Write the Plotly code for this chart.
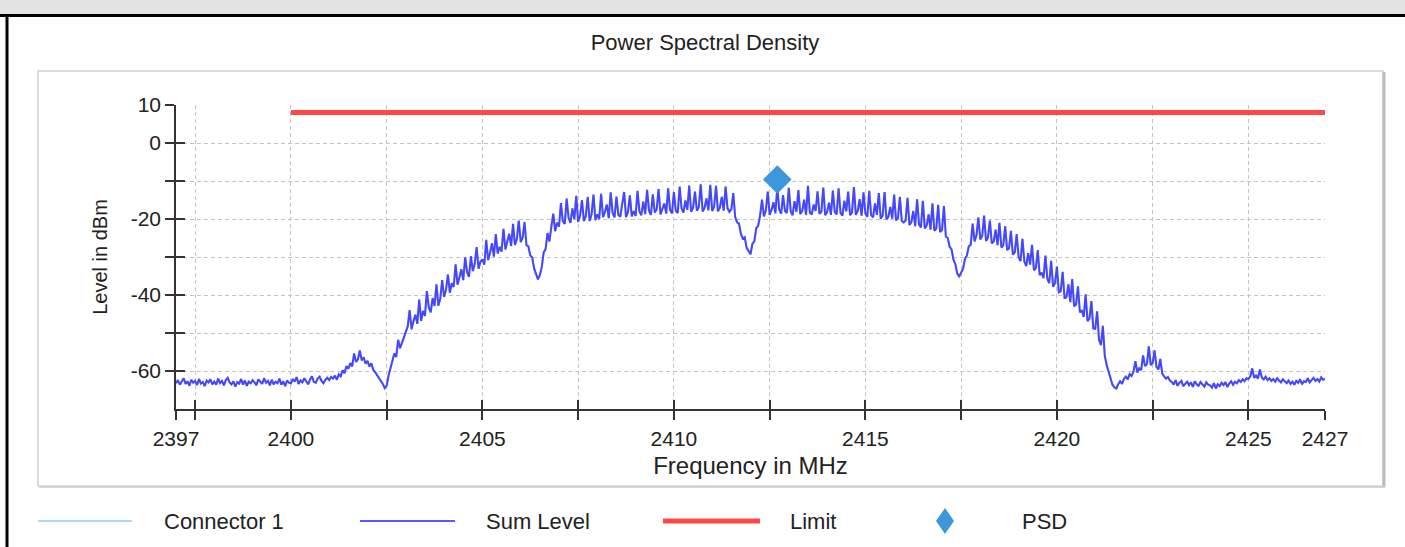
import plotly.graph_objects as go

# Sum level trace, every 0.05 MHz from 2397.00 to 2427.00
sum_level = [
    # 2397
    -63.2, -62.4, -63.6, -62.8, -61.9, -63.4, -62.7, -63.9, -62.3, -63.1,
    -62.6, -63.7, -62.1, -63.3, -62.9, -64.0, -62.5, -63.0, -62.2, -63.5,
    # 2398
    -62.8, -63.6, -62.0, -63.2, -62.6, -63.8, -62.4, -61.8, -63.0, -63.5,
    -62.7, -64.1, -62.9, -63.3, -62.1, -63.6, -62.5, -63.9, -62.8, -63.2,
    # 2399
    -62.4, -63.0, -63.7, -62.2, -62.9, -63.4, -61.9, -63.1, -62.6, -63.8,
    -62.3, -63.5, -62.8, -63.2, -62.0, -63.6, -62.7, -64.0, -62.5, -63.1,
    # 2400
    -63.3, -62.1, -62.8, -61.6, -63.4, -62.5, -63.0, -61.9, -62.7, -63.5,
    -62.2, -61.4, -62.9, -63.1, -62.0, -61.5, -62.6, -63.2, -62.3, -61.8,
    # 2401
    -62.4, -61.6, -62.0, -61.2, -62.3, -60.9, -61.4, -59.8, -60.6, -58.7,
    -59.4, -57.9, -58.8, -55.4, -57.6, -56.9, -54.6, -57.2, -56.4, -58.1,
    # 2402
    -57.3, -58.8, -58.0, -59.7, -60.3, -61.0, -61.8, -62.6, -63.4, -64.5,
    -63.9, -61.2, -59.0, -57.2, -55.4, -56.3, -51.8, -54.0, -52.5, -50.9,
    # 2403
    -49.6, -48.3, -44.0, -49.0, -46.9, -45.2, -47.6, -41.2, -46.8, -44.2,
    -45.5, -39.0, -43.2, -44.6, -40.8, -42.9, -37.2, -42.8, -41.0, -36.1,
    # 2404
    -40.5, -38.6, -34.6, -39.4, -36.9, -37.9, -31.9, -37.3, -35.4, -33.2,
    -36.1, -30.1, -34.0, -35.2, -29.8, -33.7, -31.8, -27.4, -33.1, -31.2,
    # 2405
    -30.6, -32.0, -25.5, -30.8, -28.9, -26.4, -29.9, -24.0, -29.1, -27.3,
    -28.6, -22.6, -28.0, -26.2, -23.9, -27.1, -21.3, -26.8, -25.2, -20.4,
    # 2406
    -26.1, -24.9, -20.8, -26.9, -27.2, -29.6, -30.1, -33.0, -34.2, -35.9,
    -34.8, -32.6, -28.8, -27.9, -23.7, -25.9, -22.1, -18.6, -23.2, -21.0,
    # 2407
    -22.0, -15.8, -20.6, -21.3, -14.6, -19.7, -21.0, -17.2, -20.1, -13.9,
    -20.8, -19.1, -15.0, -20.6, -19.2, -14.2, -20.5, -18.8, -13.6, -20.3,
    # 2408
    -18.8, -20.0, -13.4, -19.5, -18.1, -16.2, -19.8, -13.0, -18.4, -19.6,
    -14.1, -18.9, -19.4, -16.6, -12.9, -19.5, -18.2, -13.8, -19.3, -17.9,
    # 2409
    -19.2, -12.6, -18.0, -19.0, -15.4, -18.7, -12.3, -17.8, -18.9, -13.5,
    -18.3, -17.5, -12.1, -18.8, -17.4, -15.9, -18.6, -11.9, -17.6, -18.5,
    # 2410
    -12.9, -17.9, -18.4, -11.5, -17.2, -18.3, -15.1, -17.6, -11.2, -18.1,
    -17.0, -12.8, -17.8, -16.9, -10.9, -18.0, -17.1, -14.6, -17.7, -11.0,
    # 2411
    -17.9, -16.8, -11.3, -18.0, -17.0, -14.2, -17.8, -11.5, -17.2, -18.1,
    -17.4, -13.2, -19.5, -20.9, -21.2, -24.0, -25.2, -24.8, -27.6, -28.6,
    # 2412
    -29.3, -26.5, -25.9, -22.4, -21.8, -19.1, -14.9, -19.3, -17.8, -12.8,
    -18.9, -17.6, -15.6, -18.5, -11.6, -17.5, -18.6, -13.7, -17.9, -18.4,
    # 2413
    -11.8, -18.0, -19.0, -15.3, -18.1, -12.4, -18.7, -17.9, -14.9, -18.9,
    -11.3, -18.3, -18.8, -16.2, -17.9, -12.7, -18.6, -18.1, -11.7, -19.0,
    # 2414
    -18.2, -15.7, -18.9, -12.5, -18.1, -18.8, -11.9, -18.4, -19.1, -15.2,
    -18.0, -12.8, -19.0, -18.3, -11.6, -18.9, -17.9, -14.8, -19.1, -13.0,
    # 2415
    -18.6, -19.4, -12.6, -19.0, -19.6, -15.9, -18.9, -13.2, -19.9, -19.1,
    -12.9, -20.1, -19.4, -16.8, -19.9, -13.6, -20.4, -19.7, -14.2, -20.5,
    # 2416
    -20.9, -20.4, -14.4, -21.6, -20.8, -17.9, -21.9, -14.8, -21.4, -22.2,
    -15.2, -22.5, -21.7, -18.8, -22.8, -15.9, -23.1, -22.5, -16.3, -23.4,
    # 2417
    -22.9, -16.6, -24.6, -25.0, -27.3, -28.0, -30.8, -31.9, -34.4, -35.1,
    -34.2, -33.1, -30.5, -29.6, -27.2, -26.8, -21.2, -25.9, -24.3, -19.6,
    # 2418
    -25.4, -24.4, -19.1, -25.8, -24.9, -20.4, -26.4, -25.9, -22.8, -26.9,
    -21.0, -27.5, -26.9, -21.9, -28.2, -27.7, -23.1, -29.4, -28.8, -24.0,
    # 2419
    -30.0, -31.1, -25.2, -31.2, -32.4, -29.0, -32.0, -26.8, -33.5, -33.0,
    -28.2, -34.8, -34.1, -35.6, -29.6, -35.7, -36.9, -31.0, -37.8, -36.9,
    # 2420
    -32.5, -39.3, -39.0, -33.9, -40.9, -40.5, -37.2, -41.9, -35.8, -43.0,
    -42.5, -37.7, -44.6, -44.0, -45.8, -39.8, -46.9, -46.2, -41.6, -48.8,
    # 2421
    -48.9, -44.3, -51.8, -53.2, -48.1, -56.0, -58.4, -60.2, -62.1, -63.6,
    -64.3, -64.6, -63.5, -62.7, -63.4, -62.1, -61.5, -62.2, -60.8, -61.3,
    # 2422
    -60.2, -57.4, -60.4, -59.3, -59.8, -55.9, -58.7, -58.2, -53.5, -58.4,
    -57.9, -54.6, -58.9, -59.6, -56.8, -60.7, -61.4, -62.0, -61.6, -62.5,
    # 2423
    -62.9, -63.6, -62.4, -63.9, -63.1, -62.6, -64.0, -63.3, -62.8, -63.7,
    -63.0, -64.2, -62.7, -63.5, -63.9, -62.9, -63.4, -64.1, -63.0, -63.6,
    # 2424
    -63.8, -64.4, -63.2, -64.6, -63.5, -64.0, -63.1, -63.7, -62.9, -64.2,
    -63.3, -62.7, -63.6, -62.8, -63.2, -62.4, -62.9, -62.2, -62.7, -61.9,
    # 2425
    -62.1, -61.4, -59.3, -61.8, -61.2, -62.0, -59.6, -61.7, -62.2, -61.5,
    -62.4, -61.9, -62.6, -62.1, -62.8, -61.9, -62.5, -63.0, -62.2, -62.7,
    # 2426
    -63.2, -62.5, -63.4, -62.8, -63.6, -62.6, -63.1, -62.2, -63.5, -62.7,
    -62.9, -61.9, -63.0, -62.4, -61.8, -62.6, -62.1, -62.8, -61.7, -62.3,
    # 2427
    -62.0,
]
freq = [round(2397 + i * 0.05, 2) for i in range(len(sum_level))]

limit_freq = [2400, 2427]
limit_level = [8, 8]

psd_freq = [2412.7]
psd_level = [-9.6]

x_tickvals = [2397, 2397.5, 2400, 2402.5, 2405, 2407.5, 2410, 2412.5,
              2415, 2417.5, 2420, 2422.5, 2425, 2427]
x_ticktext = ['2397', '', '2400', '', '2405', '', '2410', '',
              '2415', '', '2420', '', '2425', '2427']
y_tickvals = [10, 0, -10, -20, -30, -40, -50, -60]
y_ticktext = ['10', '0', '', '-20', '', '-40', '', '-60']

legend_names = ['Connector 1', 'Sum Level', 'Limit', 'PSD']
legend_colors = ['#b0d6f5', '#5a5aff', '#ff4848', '#3b98dd']

FONT = 'Liberation Sans, Arial, sans-serif'
TXT = '#222222'

# plot area in pixels
L, R, T, B = 176, 1325, 105, 409


def px(xp):
    return (xp - L) / (R - L)


def py(yp):
    return (B - yp) / (B - T)


fig = go.Figure()
fig.add_trace(go.Scatter(x=freq, y=sum_level, mode='lines', name='Connector 1',
                         line=dict(color=legend_colors[0], width=2)))
fig.add_trace(go.Scatter(x=freq, y=sum_level, mode='lines', name='Sum Level',
                         line=dict(color='#4646ff', width=2)))
fig.add_trace(go.Scatter(x=limit_freq, y=limit_level, mode='lines', name='Limit',
                         line=dict(color=legend_colors[2], width=5)))
fig.add_trace(go.Scatter(x=psd_freq, y=psd_level, mode='markers', name='PSD',
                         marker=dict(symbol='diamond', size=22, color=legend_colors[3],
                                     line=dict(width=0))))
# empty trace so the overlay axes (inner half of the crossing ticks) get drawn
fig.add_trace(go.Scatter(x=[], y=[], xaxis='x2', yaxis='y2', hoverinfo='skip'))

axis_common = dict(showline=True, linecolor='#333333', linewidth=1.5,
                   ticks='outside', ticklen=9, tickwidth=1.5, tickcolor='#333333',
                   showgrid=True, gridcolor='#c4c4c4', griddash='4px,3px', gridwidth=1,
                   zeroline=False, tickfont=dict(family=FONT, size=21, color=TXT))
inner_ticks = dict(ticks='inside', ticklen=9, tickwidth=1.5, tickcolor='#333333',
                   showticklabels=False, showgrid=False, showline=False, zeroline=False)

fig.update_layout(
    width=1405, height=547,
    margin=dict(l=L, r=1405 - R, t=T, b=547 - B),
    paper_bgcolor='white', plot_bgcolor='white',
    showlegend=False,
    title=dict(text='Power Spectral Density', xref='container', yref='container',
               x=705 / 1405, y=1 - 42 / 547, xanchor='center', yanchor='middle',
               font=dict(family=FONT, size=22, color=TXT)),
    xaxis=dict(range=[2397, 2427], tickvals=x_tickvals, ticktext=x_ticktext,
               title=dict(text='Frequency in MHz', standoff=8,
                          font=dict(family=FONT, size=24, color=TXT)),
               ticklabelstandoff=1, **axis_common),
    yaxis=dict(range=[-70, 10], tickvals=y_tickvals, ticktext=y_ticktext,
               title=dict(text='Level in dBm', standoff=18,
                          font=dict(family=FONT, size=20, color=TXT)),
               **axis_common),
    xaxis2=dict(range=[2397, 2427], overlaying='x', anchor='y2', side='bottom',
                tickvals=x_tickvals, **inner_ticks),
    yaxis2=dict(range=[-70, 10], overlaying='y', anchor='x2', side='left',
                tickvals=y_tickvals, **inner_ticks),
)

shapes = [
    # page header band and frame
    dict(type='rect', xref='paper', yref='paper', x0=px(0), x1=px(1405),
         y0=py(0), y1=py(15), fillcolor='#e3e3e3', line=dict(width=0), layer='below'),
    dict(type='line', xref='paper', yref='paper', x0=px(0), x1=px(1405),
         y0=py(15.5), y1=py(15.5), line=dict(color='black', width=3)),
    dict(type='line', xref='paper', yref='paper', x0=px(7), x1=px(7),
         y0=py(15), y1=py(547), line=dict(color='black', width=3)),
    # chart panel with shadow
    dict(type='rect', xref='paper', yref='paper', x0=px(38), x1=px(1383),
         y0=py(71), y1=py(486), line=dict(color='#d0d0d0', width=1.5), layer='below'),
    dict(type='line', xref='paper', yref='paper', x0=px(1384), x1=px(1384),
         y0=py(72), y1=py(487), line=dict(color='#bdbdbd', width=3)),
    dict(type='line', xref='paper', yref='paper', x0=px(39), x1=px(1385),
         y0=py(487), y1=py(487), line=dict(color='#d4d4d4', width=2)),
]

# legend below the panel
leg_y = 521
line_spans = [(38, 132), (360, 455), (663, 760)]
line_widths = [2, 2, 5]
text_x = [162, 484, 788, 1020]
for i in range(3):
    shapes.append(dict(type='line', xref='paper', yref='paper',
                       x0=px(line_spans[i][0]), x1=px(line_spans[i][1]),
                       y0=py(leg_y), y1=py(leg_y),
                       line=dict(color=legend_colors[i], width=line_widths[i])))
dx, dy, cx = 9, 13, 945
shapes.append(dict(type='path', xref='paper', yref='paper',
                   path=f'M{px(cx)},{py(leg_y - dy)} L{px(cx + dx)},{py(leg_y)} '
                        f'L{px(cx)},{py(leg_y + dy)} L{px(cx - dx)},{py(leg_y)} Z',
                   fillcolor=legend_colors[3], line=dict(width=0)))
fig.update_layout(shapes=shapes)

for name, tx in zip(legend_names, text_x):
    fig.add_annotation(text=name, xref='paper', yref='paper', x=px(tx), y=py(leg_y),
                       xanchor='left', yanchor='middle', showarrow=False,
                       font=dict(family=FONT, size=22, color=TXT))

# page body margin would push the figure 8px right/down
fig.write_html('out.html', config={'displayModeBar': False},
               post_script="document.body.style.margin='0';")
